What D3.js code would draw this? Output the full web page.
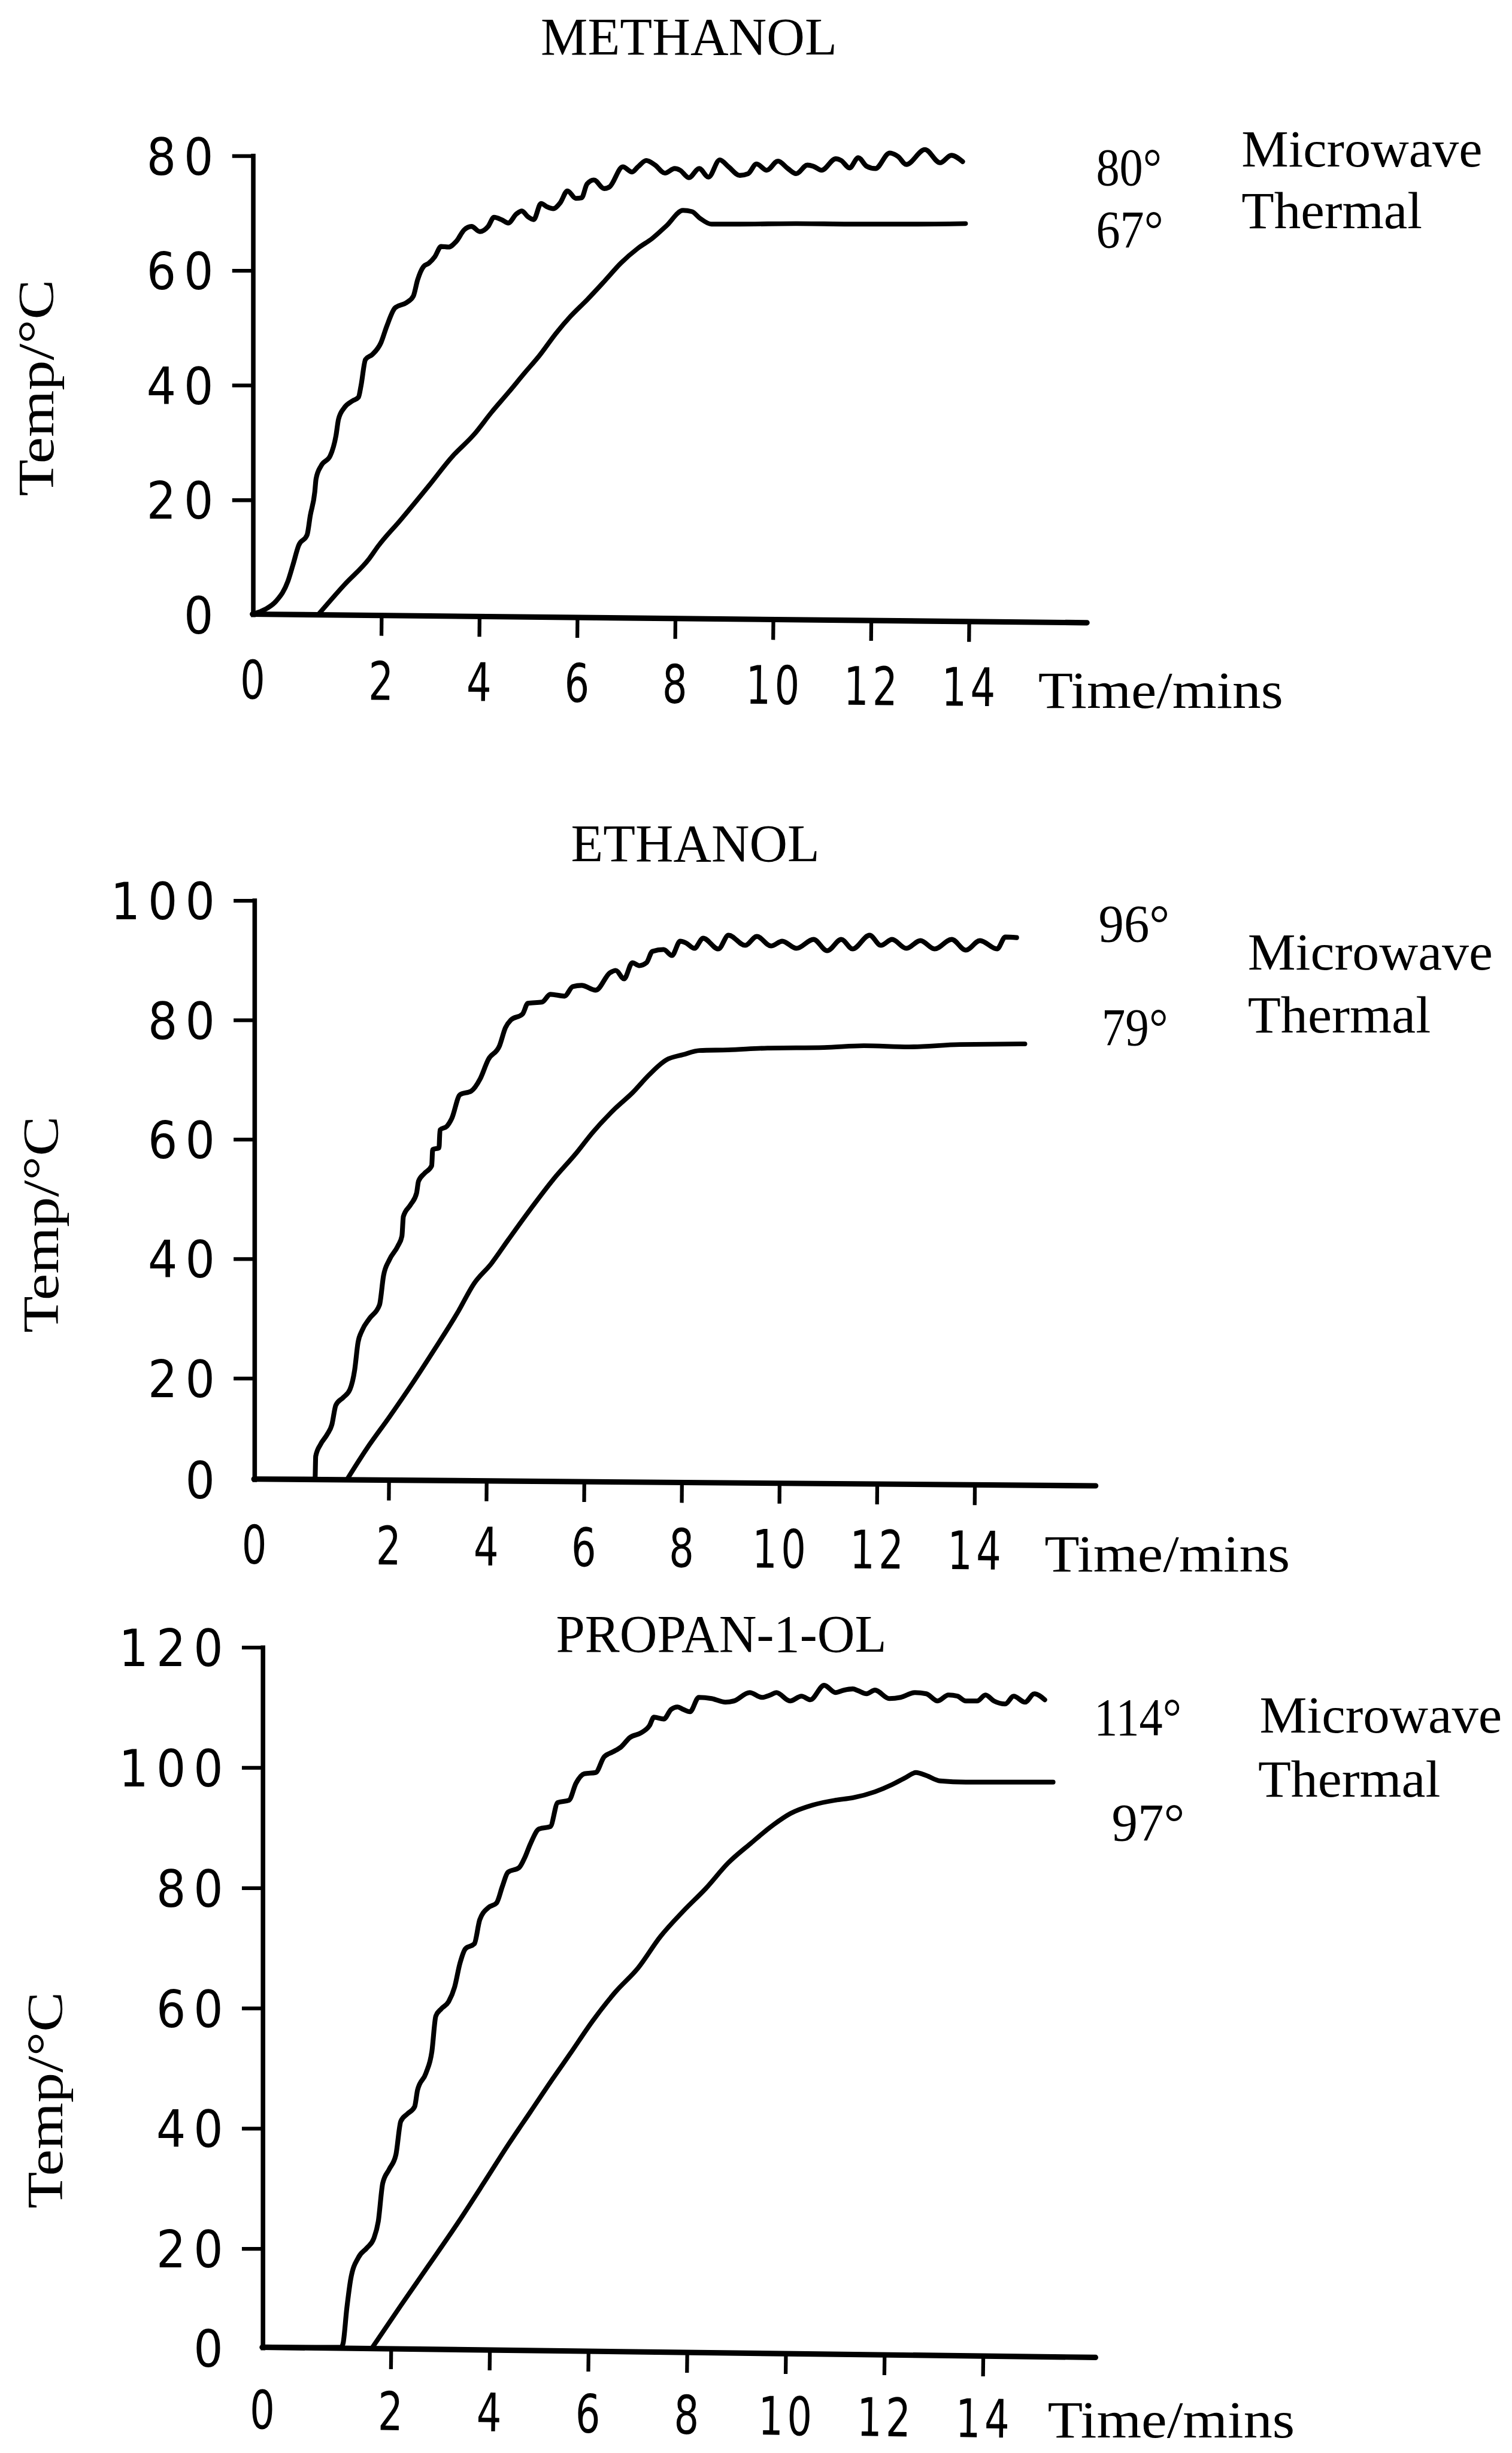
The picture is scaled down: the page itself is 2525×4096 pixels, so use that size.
<!DOCTYPE html>
<html><head><meta charset="utf-8">
<script src="https://cdn.jsdelivr.net/npm/d3@7"></script>
<style>
html,body{margin:0;padding:0;background:#fff;}
svg{display:block;}
</style></head>
<body>
<svg id="chart" width="2525" height="4096" viewBox="0 0 967 1568.6"></svg>
<script>
// ---------------- DATA ----------------
const titles = ["METHANOL", "ETHANOL", "PROPAN-1-OL"];
const seriesNames = ["Microwave", "Thermal"];
const xAxisLabel = "Time/mins";
const yAxisLabel = "Temp/°C";
const xTickValues = [0, 2, 4, 6, 8, 10, 12, 14];
const yTicksMeoh = [0, 20, 40, 60, 80];
const yTicksEtoh = [0, 20, 40, 60, 80, 100];
const yTicksProp = [0, 20, 40, 60, 80, 100, 120];
const endTempsMeoh = ["80°", "67°"];
const endTempsEtoh = ["96°", "79°"];
const endTempsProp = ["114°", "97°"];

// Methanol
const meohMwTime = [0,0.19,0.37,0.55,0.63,0.72,0.85,0.90,0.97,0.99,1.07,1.21,1.30,1.34,1.43,1.56,1.65,1.69,1.76,1.87,2.00,2.12,2.29,2.52,2.66,2.75,2.87,2.98,3.10,3.23,3.38,3.54,3.70,3.85,4.02,4.19,4.31,4.48,4.60,4.77,4.88,5.00,5.12,5.27,5.40,5.52,5.66,5.81,5.98,6.10,6.21,6.35,6.56,6.67,6.94,7.13,7.25,7.42,7.60,7.80,8.00,8.11,8.29,8.50,8.69,8.92,9.10,9.33,9.50,9.67,9.88,10.11,10.31,10.48,10.71,10.83,11.00,11.29,11.40,11.57,11.75,11.92,12.10,12.39,12.56,12.73,13.11,13.42,13.65,13.88];
const meohMwTemp = [0,0.8,2.3,5.7,8.6,12.0,13.8,17.2,21.3,23.6,25.9,27.6,31.1,34.0,36.0,37.2,37.8,39.8,44.4,45.3,47.3,50.2,53.4,54.3,55.4,58.3,60.6,61.2,62.3,64.1,64.0,65.0,67.0,67.6,66.7,67.6,69.2,68.7,68.2,69.8,70.3,69.3,68.8,71.6,71.0,70.7,71.7,73.8,72.5,72.6,75.0,75.7,74.2,74.5,78.0,77.1,78.0,79.1,78.3,76.9,77.7,77.4,76.1,77.7,76.2,79.2,78.0,76.5,76.8,78.5,77.4,79.0,77.7,76.8,78.3,78.1,77.4,79.4,79.1,77.8,79.6,78.1,77.7,80.4,79.8,78.4,81.0,78.7,80.0,78.9];
const meohThTime = [1.03,1.43,1.82,1.96,2.40,2.98,3.45,3.91,4.26,4.60,4.94,5.23,5.58,5.87,6.21,6.56,6.90,7.25,7.54,7.83,8.17,8.35,8.52,8.75,9.33,10.48,11.63,12.79,13.94];
const meohThTemp = [0,5.1,9.7,11.9,16.4,22.4,27.4,31.4,35.2,38.6,42.1,45.0,49.0,51.9,54.8,58.0,61.2,63.8,65.5,67.7,70.4,70.2,69.0,68.0,68.0,68.1,68.0,68.0,68.1];

// Ethanol
const etohMwTime = [0,0.91,0.92,0.99,1.09,1.16,1.22,1.33,1.43,1.50,1.55,1.61,1.72,1.87,1.93,2.02,2.20,2.28,2.31,2.46,2.58,2.62,2.74,2.89,2.91,3.04,3.06,3.20,3.30,3.47,3.70,3.88,4.05,4.28,4.40,4.51,4.75,4.86,5.15,5.32,5.61,5.78,5.96,6.25,6.54,6.66,6.83,7.00,7.14,7.29,7.41,7.64,7.81,7.98,8.10,8.27,8.45,8.76,8.97,9.31,9.55,9.84,10.07,10.36,10.71,10.99,11.28,11.51,11.86,12.09,12.32,12.61,12.90,13.19,13.54,13.83,14.12,14.47,14.64,14.87];
const etohMwTemp = [0,0,4.5,6.8,8.8,10.7,14.6,16.1,17.7,21.3,25.9,27.9,29.9,32.2,37.1,39.7,42.1,43.7,47.0,49.0,50.9,52.9,54.2,55.5,58.2,58.5,61.5,62.1,63.4,67.4,68.0,70.0,73.3,75.6,78.6,79.9,80.9,82.7,82.9,84.2,83.9,85.5,85.7,84.9,87.8,88.2,86.8,89.5,89.0,89.5,91.4,91.7,90.7,93.1,92.8,91.9,93.6,91.8,94.1,92.4,93.9,92.3,93.1,91.9,93.4,91.5,93.4,91.8,94.1,92.4,93.4,91.9,93.2,91.8,93.4,91.6,93.2,91.8,93.8,93.7];
const etohThTime = [1.39,1.68,2.02,2.49,2.96,3.42,3.76,4.11,4.45,4.92,5.38,5.84,6.19,6.65,7.00,7.34,7.69,8.04,8.38,8.96,9.77,10.93,11.74,12.67,13.71,15.04];
const etohThTemp = [0,6.0,12.2,18.8,24.9,30.9,35.8,39.1,43.0,48.3,53.2,57.5,61.1,65.1,67.7,70.7,73.2,74.1,74.8,74.9,75.2,75.3,75.6,75.4,75.8,75.9];

// Propan-1-ol
const propMwTime = [0,1.23,1.26,1.32,1.38,1.50,1.63,1.74,1.81,1.88,1.98,2.11,2.21,2.34,2.49,2.55,2.72,2.84,2.92,3.03,3.18,3.30,3.41,3.52,3.70,3.81,3.98,4.15,4.27,4.38,4.61,4.72,4.84,5.01,5.24,5.39,5.62,5.76,5.93,6.16,6.33,6.50,6.68,6.85,7.08,7.25,7.34,7.54,7.69,7.82,7.93,8.07,8.25,8.51,8.79,8.96,9.28,9.53,9.70,9.82,10.10,10.33,10.51,10.79,11.02,11.19,11.37,11.48,11.65,11.82,12.11,12.34,12.63,12.86,13.09,13.31,13.49,13.66,13.89,14.06,14.23,14.46,14.63,14.86,15.05,15.26];
const propMwTemp = [0,0,0.7,7.9,13.7,18.1,20.0,21.6,24.4,30.8,33.1,35.5,41.1,42.3,43.5,46.3,49.1,52.7,58.6,59.8,61.0,63.4,67.4,69.8,70.6,74.6,76.6,77.4,80.2,82.5,83.3,84.9,87.3,89.7,90.1,94.1,94.5,97.3,98.9,99.1,101.7,102.5,103.4,104.9,105.7,106.9,108.3,108.0,109.6,110.0,109.6,109.2,111.6,111.4,110.8,111.0,112.4,111.6,112.0,112.4,111.0,111.8,111.2,113.6,112.4,112.8,113.0,112.7,112.2,112.8,111.4,111.6,112.4,112.2,111.0,112.0,111.8,111.0,111.0,112.0,111.0,110.5,111.8,110.8,112.2,111.2];
const propThTime = [1.72,2.21,2.78,3.35,3.92,4.38,4.84,5.30,5.64,6.10,6.56,7.02,7.47,7.93,8.39,8.85,9.30,9.76,10.11,10.56,11.02,11.37,11.82,12.17,12.45,12.65,12.86,13.14,13.66,14.23,15.43];
const propThTemp = [0,8.4,16.6,24.0,31.2,37.1,42.7,48.3,52.3,57.8,62.6,66.6,71.8,76.0,79.8,84.1,87.3,90.4,92.3,93.7,94.5,94.9,95.9,97.1,98.3,99.1,98.6,97.7,97.5,97.5,97.5];

// ---------------- LAYOUT (reference units, 967 wide) ----------------
const layout = [
  { title: {x: 440.6, y: 35, len: 189.5},
    xr: [161.5, 243.6, 619.4], xEnd: 16.42, tilt: 0.59, labOff: 54,
    ydom: [0, 80], yr: [392.7, 99.3], yTicks: yTicksMeoh,
    ylab: {x: 34, y: 248}, xlab: {x: 664, y: 452.5, len: 156.6},
    mw: {x: 794, y: 106.5, len: 154}, th: {x: 794, y: 146, len: 115.6},
    dmw: {x: 701, y: 118.3, len: 42}, dth: {x: 701, y: 158, len: 43},
    temps: endTempsMeoh,
    mwT: meohMwTime, mwC: meohMwTemp, thT: meohThTime, thC: meohThTemp },
  { title: {x: 444.7, y: 550.6, len: 159},
    xr: [162.4, 248.3, 623], xEnd: 16.49, tilt: 0.46, labOff: 54,
    ydom: [0, 20, 100], yr: [945.8, 881, 575.5], yTicks: yTicksEtoh,
    ylab: {x: 37, y: 783}, xlab: {x: 668, y: 1005, len: 157},
    mw: {x: 798, y: 620, len: 156.7}, th: {x: 798, y: 660.3, len: 117},
    dmw: {x: 702.6, y: 601.9, len: 45.4}, dth: {x: 704.6, y: 668.4, len: 42.4},
    temps: endTempsEtoh,
    mwT: etohMwTime, mwC: etohMwTemp, thT: etohThTime, thC: etohThTemp },
  { title: {x: 461.3, y: 1056.3, len: 211.4},
    xr: [167.7, 249.7, 628.4], xEnd: 16.29, tilt: 0.7, labOff: 52,
    ydom: [0, 20, 120], yr: [1501, 1437.6, 1053.1], yTicks: yTicksProp,
    ylab: {x: 40, y: 1343}, xlab: {x: 670, y: 1558.5, len: 158},
    mw: {x: 805.6, y: 1107.8, len: 155}, th: {x: 804.6, y: 1148.9, len: 116.6},
    dmw: {x: 699.8, y: 1109.5, len: 55.8}, dth: {x: 711, y: 1176.7, len: 46.6},
    temps: endTempsProp,
    mwT: propMwTime, mwC: propMwTemp, thT: propThTime, thC: propThTemp }
];

const SERIF = "'Liberation Serif','Times New Roman',serif";
const NARROW = "'Liberation Sans Narrow','DejaVu Sans Condensed','Liberation Sans',sans-serif";

const svg = d3.select("#chart");

function serifText(g, str, x, y, size, len, anchor) {
  const t = g.append("text")
    .attr("x", x).attr("y", y)
    .attr("font-family", SERIF)
    .attr("font-size", size)
    .attr("fill", "#000")
    .attr("text-anchor", anchor || "start")
    .text(str);
  if (len) t.attr("textLength", len).attr("lengthAdjust", "spacingAndGlyphs");
  return t;
}

layout.forEach((L, i) => {
  const g = svg.append("g").attr("class", "panel");
  const x = d3.scaleLinear().domain([0, 2, 14]).range(L.xr);
  const y = d3.scaleLinear().domain(L.ydom).range(L.yr);

  // title
  serifText(g, titles[i], L.title.x, L.title.y, 34, L.title.len, "middle");

  // y axis
  const yAxis = d3.axisLeft(y).tickValues(L.yTicks).tickSize(13).tickSizeOuter(0).tickPadding(12);
  const gy = g.append("g").attr("transform", `translate(${x(0)},0)`).call(yAxis);
  gy.select(".domain").attr("stroke", "#000").attr("stroke-width", 2.9).attr("stroke-linecap", "square");
  gy.selectAll(".tick line").attr("stroke", "#000").attr("stroke-width", 2.4);
  gy.selectAll(".tick").filter(d => d === 0).select("line").remove();
  gy.selectAll(".tick text")
    .attr("font-family", NARROW)
    .attr("font-size", 33)
    .attr("letter-spacing", 5)
    .attr("dx", 5)
    .attr("dy", "0.36em")
    .attr("fill", "#000");
  gy.attr("font-family", null).attr("font-size", null);

  // x axis (slightly tilted like the original drawing)
  const xAxis = d3.axisBottom(x).tickValues(xTickValues).tickSize(13).tickSizeOuter(0);
  const gx = g.append("g")
    .attr("transform", `translate(0,${y(0)}) rotate(${L.tilt},${x(0)},0)`)
    .call(xAxis);
  gx.select(".domain").remove();
  gx.append("line")
    .attr("x1", x(0)).attr("x2", x(L.xEnd))
    .attr("y1", 0).attr("y2", 0)
    .attr("stroke", "#000").attr("stroke-width", 3.5).attr("stroke-linecap", "round");
  gx.selectAll(".tick line").attr("stroke", "#000").attr("stroke-width", 2.4);
  gx.selectAll(".tick").filter(d => d === 0).select("line").remove();
  gx.selectAll(".tick text")
    .attr("font-family", NARROW)
    .attr("font-size", 34)
    .attr("letter-spacing", 3)
    .attr("dx", 1.5)
    .attr("y", L.labOff)
    .attr("dy", 0)
    .attr("transform", "scale(0.82,1)")
    .attr("fill", "#000");
  gx.attr("font-family", null).attr("font-size", null);

  // axis titles
  serifText(g, xAxisLabel, L.xlab.x, L.xlab.y, 33, L.xlab.len, "start");
  g.append("text")
    .attr("transform", `translate(${L.ylab.x},${L.ylab.y}) rotate(-90)`)
    .attr("font-family", SERIF).attr("font-size", 32.4).attr("fill", "#000")
    .attr("text-anchor", "middle")
    .attr("textLength", 138.6).attr("lengthAdjust", "spacingAndGlyphs")
    .text(yAxisLabel);

  // curves
  const line = d3.line().x(d => x(d[0])).y(d => y(d[1])).curve(d3.curveMonotoneX);
  const mw = d3.zip(L.mwT, L.mwC);
  const th = d3.zip(L.thT, L.thC);
  g.append("path").datum(mw).attr("d", line)
    .attr("fill", "none").attr("stroke", "#000").attr("stroke-width", 3.1)
    .attr("stroke-linejoin", "round").attr("stroke-linecap", "round");
  g.append("path").datum(th).attr("d", line)
    .attr("fill", "none").attr("stroke", "#000").attr("stroke-width", 3.0)
    .attr("stroke-linejoin", "round").attr("stroke-linecap", "round");

  // end labels
  serifText(g, L.temps[0], L.dmw.x, L.dmw.y, 34, L.dmw.len, "start");
  serifText(g, L.temps[1], L.dth.x, L.dth.y, 34, L.dth.len, "start");
  serifText(g, seriesNames[0], L.mw.x, L.mw.y, 33, L.mw.len, "start");
  serifText(g, seriesNames[1], L.th.x, L.th.y, 33, L.th.len, "start");
});
</script>
</body></html>
